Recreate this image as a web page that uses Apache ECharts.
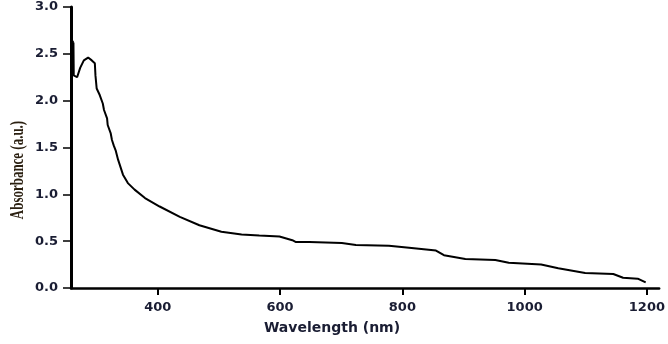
<!DOCTYPE html>
<html>
<head>
<meta charset="utf-8">
<script src="https://cdn.jsdelivr.net/npm/echarts@6/dist/echarts.min.js"></script>
<style>
  html, body { margin: 0; padding: 0; background: #fff; }
  #chart { width: 668px; height: 344px; }
</style>
</head>
<body>
<div id="chart"></div>
<script>
// wavelength (nm) and absorbance (a.u.)
const wavelength = [
  259, 260, 261, 261.5, 262, 262.5, 263, 268, 273, 279, 286, 292, 297, 298, 300,
  305, 310, 312, 317, 318, 323, 325, 328, 331, 335, 343, 351, 362, 379, 403,
  436, 468, 504, 537, 566, 599, 620, 626, 648, 701, 724, 778, 811, 855, 868,
  903, 952, 974, 1027, 1055, 1099, 1145, 1161, 1185, 1198
];
const absorbance = [
  2.55, 2.43, 2.64, 2.30, 2.62, 2.27, 2.25, 2.25, 2.35, 2.43, 2.46, 2.43, 2.40, 2.27, 2.13,
  2.06, 1.97, 1.90, 1.81, 1.74, 1.65, 1.58, 1.52, 1.47, 1.37, 1.21, 1.12, 1.05, 0.96, 0.87,
  0.76, 0.67, 0.60, 0.57, 0.56, 0.55, 0.51, 0.49, 0.49, 0.48, 0.46, 0.45, 0.43, 0.40, 0.35,
  0.31, 0.30, 0.27, 0.25, 0.21, 0.16, 0.15, 0.11, 0.10, 0.06
];
const xTicks = [400, 600, 800, 1000, 1200];

const chart = echarts.init(document.getElementById('chart'));

const option = {
  animation: false,
  grid: { left: 71, right: 6, top: 7, bottom: 56 },
  xAxis: {
    type: 'value',
    min: 258,
    max: 1220,
    axisLine: { show: true, lineStyle: { color: '#000', width: 2.5 } },
    axisTick: {
      show: true, length: 7, inside: false, customValues: xTicks,
      lineStyle: { color: '#000', width: 2 },
    },
    axisLabel: {
      customValues: xTicks, margin: 13, formatter: (v) => String(v),
      color: '#1a1d33', fontFamily: 'DejaVu Sans', fontWeight: 'bold', fontSize: 13,
    },
    splitLine: { show: false },
  },
  yAxis: {
    type: 'value',
    min: 0,
    max: 3,
    interval: 0.5,
    axisLine: { show: true, lineStyle: { color: '#000', width: 3 } },
    axisTick: { show: true, length: 8, lineStyle: { color: '#000', width: 1.5 } },
    axisLabel: {
      margin: 13, formatter: (v) => v.toFixed(1),
      color: '#1a1d33', fontFamily: 'DejaVu Sans', fontWeight: 'bold', fontSize: 13,
    },
    splitLine: { show: false },
  },
  graphic: [
    {
      type: 'text', x: 18, y: 170, rotation: Math.PI / 2, scaleX: 0.72,
      style: {
        text: 'Absorbance (a.u.)', x: 0, y: 0, align: 'center', verticalAlign: 'middle',
        fill: '#2a1f10', font: 'bold 18px "Liberation Serif"',
      },
    },
    {
      type: 'text', x: 332, y: 328,
      style: {
        text: 'Wavelength (nm)', x: 0, y: 0, align: 'center', verticalAlign: 'middle',
        fill: '#1a1d33', font: 'bold 14px "DejaVu Sans"',
      },
    },
  ],
  series: [
    {
      type: 'line',
      data: wavelength.map((w, i) => [w, absorbance[i]]),
      showSymbol: false,
      lineStyle: { color: '#000', width: 2 },
    },
  ],
};

chart.setOption(option);
</script>
</body>
</html>
